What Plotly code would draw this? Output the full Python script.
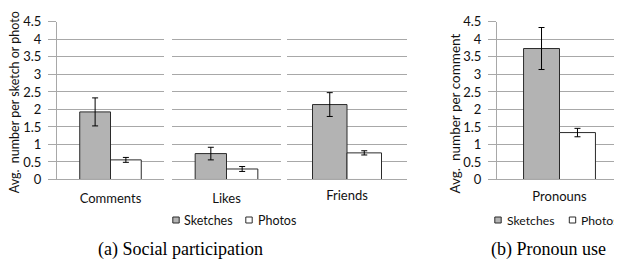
import plotly.graph_objects as go

# The page body has an 8px margin, so the figure is laid out in
# coordinates offset by 8px from the 622x274 window (and kept short
# enough that the page does not scroll).
OFF = 8
W, H = 622 - OFF, 274 - 2 * OFF

# ---- data ----
categories = ["Comments", "Likes", "Friends"]
sketches = [1.93, 0.74, 2.14]
sketches_err = [0.40, 0.18, 0.34]
photos = [0.56, 0.30, 0.76]
photos_err = [0.07, 0.07, 0.06]

pron_category = ["Pronouns"]
pron_sketches = [3.74]
pron_sketches_err = [0.60]
pron_photos = [1.34]
pron_photos_err = [0.12]

yticks = [0, 0.5, 1, 1.5, 2, 2.5, 3, 3.5, 4, 4.5]
ytick_text = ["0", "0.5", "1", "1.5", "2", "2.5", "3", "3.5", "4", "4.5"]

SK_FILL = "#b3b3b3"
PH_FILL = "#ffffff"
OUTLINE = "#2b2b2b"
GRID = "#a8a8a8"
TXT = "#111111"
FONT = "Lato"

def px(x):
    return (x - OFF) / W

def py(y):
    return 1 - (y - OFF) / H

fig = go.Figure()

xaxes_names = ["x", "x2", "x3"]
for i, cat in enumerate(categories):
    xa = xaxes_names[i]
    fig.add_trace(go.Bar(
        x=[cat], y=[sketches[i]], xaxis=xa, yaxis="y", name="Sketches",
        marker=dict(color=SK_FILL, line=dict(color=OUTLINE, width=1)),
        error_y=dict(type="data", array=[sketches_err[i]], color="#000000", thickness=1, width=3),
        showlegend=False, offsetgroup="s"))
    fig.add_trace(go.Bar(
        x=[cat], y=[photos[i]], xaxis=xa, yaxis="y", name="Photos",
        marker=dict(color=PH_FILL, line=dict(color=OUTLINE, width=1)),
        error_y=dict(type="data", array=[photos_err[i]], color="#000000", thickness=1, width=3),
        showlegend=False, offsetgroup="p"))

fig.add_trace(go.Bar(
    x=pron_category, y=pron_sketches, xaxis="x4", yaxis="y2", name="Sketches",
    marker=dict(color=SK_FILL, line=dict(color=OUTLINE, width=1)),
    error_y=dict(type="data", array=pron_sketches_err, color="#000000", thickness=1, width=3),
    showlegend=False, offsetgroup="s"))
fig.add_trace(go.Bar(
    x=pron_category, y=pron_photos, xaxis="x4", yaxis="y2", name="Photos",
    marker=dict(color=PH_FILL, line=dict(color=OUTLINE, width=1)),
    error_y=dict(type="data", array=pron_photos_err, color="#000000", thickness=1, width=3),
    showlegend=False, offsetgroup="p"))

ydom = [py(182.3), py(14.3)]

def xax(domain, anchor, standoff):
    return dict(domain=domain, anchor=anchor, showgrid=False, showline=True,
                linecolor=GRID, linewidth=1, ticks="", zeroline=False,
                tickfont=dict(family=FONT, size=13, color=TXT),
                ticklabelstandoff=standoff, fixedrange=True)

def yax(anchor):
    return dict(domain=ydom, anchor=anchor, range=[0, 4.5], tickvals=yticks,
                ticktext=ytick_text, showgrid=True, gridcolor=GRID, gridwidth=1,
                showline=True, linecolor=GRID, linewidth=1, ticks="outside",
                ticklen=8, tickcolor=GRID, zeroline=False,
                tickfont=dict(family=FONT, size=13, color=TXT),
                ticklabelstandoff=4, ticklabeloverflow="allow", fixedrange=True)

fig.update_layout(
    width=W, height=H, margin=dict(l=0, r=0, t=0, b=0),
    paper_bgcolor="white", plot_bgcolor="white",
    barmode="group", bargap=0.425, bargroupgap=0,
    showlegend=False,
    xaxis=xax([px(57), px(164)], "y", 7),
    xaxis2=xax([px(172), px(281)], "y", 7),
    xaxis3=xax([px(287), px(407)], "y", 4),
    xaxis4=xax([px(497), 1.0], "y2", 5),
    yaxis=yax("x"),
    yaxis2=yax("x4"),
)

annotations = [
    dict(text="Avg.  number per sketch or photo", x=px(14), y=py(100), textangle=-90,
         font=dict(family=FONT, size=12.5, color=TXT)),
    dict(text="Avg.  number per comment", x=px(455), y=py(112), textangle=-90,
         font=dict(family=FONT, size=13.5, color=TXT)),
    dict(text="Sketches", x=px(182), y=py(225.5), xanchor="left",
         font=dict(family=FONT, size=12.5, color=TXT)),
    dict(text="Photos", x=px(256), y=py(225.5), xanchor="left",
         font=dict(family=FONT, size=12.5, color=TXT)),
    dict(text="Sketches", x=px(505), y=py(225.5), xanchor="left",
         font=dict(family=FONT, size=12.2, color=TXT)),
    dict(text="Photos", x=px(579), y=py(225.5), xanchor="left",
         font=dict(family=FONT, size=12.2, color=TXT)),
    dict(text="(a) Social participation", x=px(180), y=py(257),
         font=dict(family="Liberation Serif", size=18, color="#000000")),
    dict(text="(b) Pronoun use", x=px(548), y=py(257),
         font=dict(family="Liberation Serif", size=18, color="#000000")),
]
for a in annotations:
    a.setdefault("xref", "paper")
    a.setdefault("yref", "paper")
    a.setdefault("showarrow", False)
    a.setdefault("xanchor", "center")
    a.setdefault("yanchor", "middle")
fig.update_layout(annotations=annotations)

shapes = []
for cx, fill in [(176, SK_FILL), (249, PH_FILL), (498, SK_FILL), (572.5, PH_FILL)]:
    shapes.append(dict(type="rect", xref="paper", yref="paper",
                       x0=px(cx - 3.2), x1=px(cx + 3.2), y0=py(225.5 + 3.2), y1=py(225.5 - 3.2),
                       fillcolor=fill, line=dict(color=OUTLINE, width=1)))
fig.update_layout(shapes=shapes)

fig.write_html("out.html")
